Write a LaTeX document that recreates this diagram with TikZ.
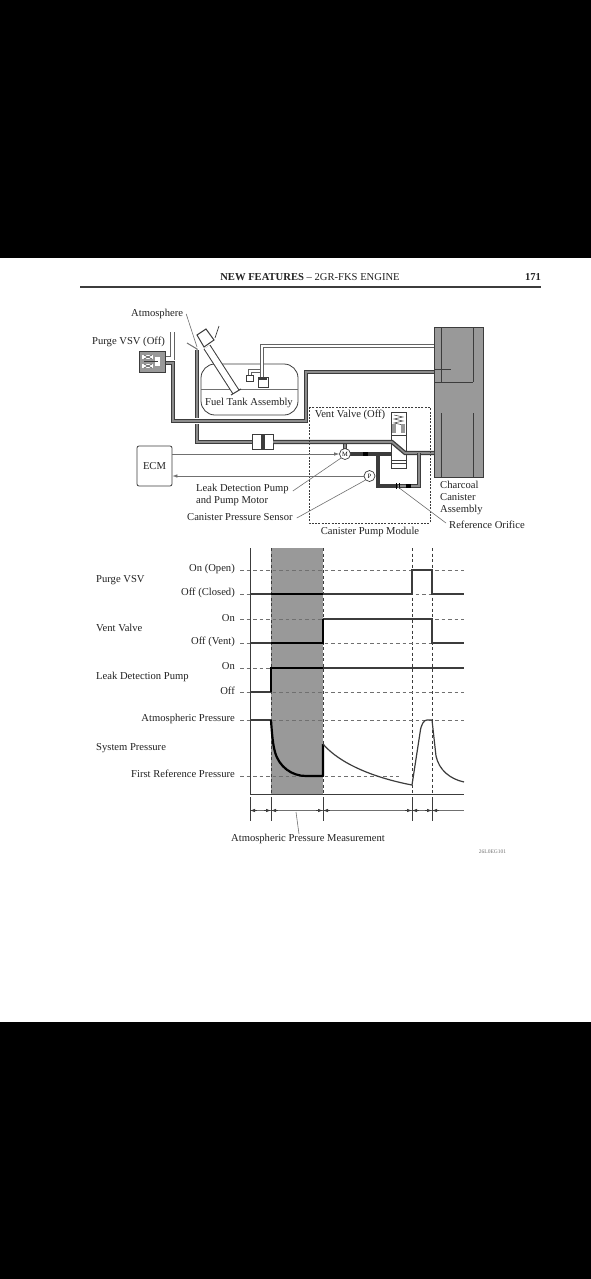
\documentclass[tikz,border=0pt]{standalone}
\usepackage{fontspec}
\setmainfont{Liberation Serif}
\usepackage{xcolor}
\usetikzlibrary{arrows.meta}
\definecolor{inkc}{HTML}{222222}
\definecolor{pipec}{HTML}{3C3C3C}
\definecolor{pipefillc}{HTML}{8C8C8C}
\definecolor{shadec}{HTML}{999999}
\definecolor{leaderc}{HTML}{707070}
\tikzset{
  lbl/.style={inner sep=0pt, yshift=-1pt, text=inkc, font=\fontsize{10.6}{12}\selectfont},
  leader/.style={draw=leaderc, line width=0.6pt},
  mainpipe/.style={draw=pipec, line width=1.3pt, double=pipefillc, double distance=1.6pt},
  thinpipe/.style={draw=pipec!80, line width=1pt, double=white, double distance=1.5pt},
  darkpipe/.style={draw=pipec, line width=3.2pt},
  body/.style={draw=pipec, line width=0.8pt, fill=white},
  wire/.style={draw=leaderc, line width=0.6pt},
  level/.style={draw=leaderc, line width=0.7pt, dash pattern=on 3.5pt off 3pt},
  guide/.style={draw=pipec, line width=0.6pt, dash pattern=on 3pt off 2.5pt},
  signal/.style={draw=pipec, line width=1.2pt},
  active/.style={draw=black, line width=2.2pt},
  sensor/.style={circle, draw=pipec, line width=0.7pt, fill=white, inner sep=0pt, minimum size=11pt, font=\fontsize{6.5}{7}\selectfont},
  tip/.style={draw=pipec, line width=0.7pt},
  tipr/.style={tip, -{Latex[length=5pt,width=3.5pt]}},
  tipl/.style={tip, {Latex[length=5pt,width=3.5pt]}-},
}
\begin{document}
\begin{tikzpicture}[x=1pt,y=-1pt]
\useasboundingbox (0,0) rectangle (591,1279);
\fill[black] (0,0) rectangle (591,1279);
\fill[white] (0,258) rectangle (591,1022);
% header
\node[lbl] (title) at (310,276) {\textbf{NEW FEATURES} -- 2GR-FKS ENGINE};
\node[lbl,font=\bfseries\fontsize{10.6}{12}\selectfont] (pageno) at (533,276) {171};
\draw[pipec,line width=1.2pt] (80,287) -- (541,287);
% canister
\fill[shadec] (434,327) rectangle (483,477);
\draw[pipec,line width=0.8pt] (434,327) rectangle (483,477);
\draw[pipec,line width=0.5pt] (441,327) -- (441,382);
\draw[pipec,line width=0.5pt] (473,327) -- (473,382);
\draw[pipec,line width=0.5pt] (441,413) -- (441,477);
\draw[pipec,line width=0.5pt] (473,413) -- (473,477);
\draw[pipec,line width=0.5pt] (434,369) -- (451,369);
\draw[pipec,line width=0.5pt] (434,382) -- (473,382);
% tank
\draw[pipec,line width=0.8pt,rounded corners=14pt] (201,364) rectangle (298,415);
\draw[leaderc,line width=0.5pt] (201,389) -- (298,389);
\draw[thinpipe] (250,375) -- (250,371) -- (262,371);
\draw[thinpipe] (262,378) -- (262,346) -- (434,346);
\draw[body,line width=1pt] (246,375) rectangle (253,381);
\draw[body,line width=1pt] (258,377) rectangle (268,387);
\fill[pipec] (259,377) rectangle (267,380);
% purge pipes
\draw[mainpipe] (197,350) -- (197,442) -- (252,442);
\draw[white,line width=6pt] (173,421) -- (306,421);
\draw[mainpipe] (165,363) -- (173,363) -- (173,421) -- (306,421) -- (306,372) -- (434,372);
\draw[thinpipe,line width=0.8pt,double distance=3pt] (172.5,332) -- (172.5,358) -- (165,358);
\draw[leaderc,line width=1pt] (187,343) -- (197,349) -- (197,350);
% filler neck
\draw[pipec,line width=1pt,double=white,double distance=6pt] (207,347) -- (236,392);
\draw[pipec,line width=1pt] (231,395) -- (241,389);
\draw[body,line width=1pt] (197,335) -- (206,329) -- (214,340) -- (204,347) -- cycle;
\draw[pipec,line width=0.7pt] (219,326) -- (215,338);
% purge vsv
\fill[shadec] (139,351) rectangle (165,372);
\draw[pipec,line width=0.8pt] (139,351) rectangle (165,372);
\fill[white] (142,355) rectangle (153,359);
\fill[white] (142,364) rectangle (153,368);
\fill[white] (155,357) rectangle (160,366);
\draw[pipec,line width=0.5pt] (144,361) -- (158,361);
\draw[pipec,line width=0.5pt] (144,355) -- (152,359);
\draw[pipec,line width=0.5pt] (144,359) -- (152,355);
\draw[pipec,line width=0.5pt] (144,364) -- (152,368);
\draw[pipec,line width=0.5pt] (144,368) -- (152,364);
% vent valve
\draw[body] (391,412) rectangle (406,468);
\draw[pipec,line width=0.5pt] (394,415) -- (403,417) -- (394,419) -- (403,421) -- (394,423) -- (403,425);
\fill[shadec] (392,424) rectangle (396,433);
\fill[shadec] (401,424) rectangle (405,433);
\draw[pipec,line width=0.7pt] (391,435) -- (406,435);
\draw[pipec,line width=0.5pt] (391,460) -- (406,460);
\draw[pipec,line width=0.5pt] (391,463) -- (406,463);
% canister pump module
\draw[mainpipe,line width=1pt,double distance=1.8pt] (345,449) -- (345,442);
\draw[body,fill=white] (252,434) rectangle (273,449);
\fill[pipec] (261,434) rectangle (265,449);
\draw[mainpipe] (273,442) -- (392,442) -- (405,453) -- (434,453);
\draw[darkpipe] (350,454) -- (391,454);
\draw[darkpipe] (378,454) -- (378,486) -- (398,486);
\draw[mainpipe,line width=1pt,double distance=1.8pt] (398,486) -- (419,486) -- (419,453);
\fill[black] (363,452) rectangle (368,456);
\fill[black] (406,484) rectangle (411,488);
\draw[black,line width=0.7pt] (396,483) -- (396,489);
\draw[black,line width=0.7pt] (399,483) -- (399,489);
\draw[pipec,line width=0.8pt,dash pattern=on 2pt off 1.3pt] (309,407) rectangle (430,523);
% ecm and sensors
\node[lbl,draw=pipec,line width=0.8pt,rounded corners=2pt,minimum width=35pt,minimum height=40pt] (ecm) at (154.5,465) {ECM};
\node[sensor] (motor) at (345,454) {M};
\node[sensor] (pressure) at (369.5,476) {P};
\draw[wire,-{Latex[length=5pt,width=3.5pt]}] (motor -| ecm.east) -- (motor.west);
\draw[wire,-{Latex[length=5pt,width=3.5pt]}] (pressure.west) -- (pressure -| ecm.east);
% diagram labels
\node[lbl,anchor=west] (atmos) at (131,313) {Atmosphere};
\node[lbl,anchor=west] (vsvlbl) at (92,341) {Purge VSV (Off)};
\node[lbl] (tanklbl) at (249,402) {Fuel Tank Assembly};
\node[lbl] (ventlbl) at (350,414) {Vent Valve (Off)};
\node[lbl] (modulelbl) at (370,531) {Canister Pump Module};
\node[lbl,anchor=west,align=left] (leaklbl) at (196,494) {Leak Detection Pump\\and Pump Motor};
\node[lbl,anchor=west] (sensorlbl) at (187,516) {Canister Pressure Sensor};
\node[lbl,anchor=west,align=left] (charcoallbl) at (440,497) {Charcoal\\Canister\\Assembly};
\node[lbl,anchor=west] (orificelbl) at (449,524) {Reference Orifice};
\coordinate (atmostip) at (197,347);
\coordinate (orificetip) at (398,487);
\draw[leader] (atmos.east) ++(3,0) -- (atmostip);
\draw[leader] (leaklbl.east) ++(4,-4) -- (motor.south west);
\draw[leader] (sensorlbl.east) ++(4,1) -- (pressure.south west);
\draw[leader] (orificelbl.west) ++(-3,-2) -- (orificetip);
% chart
\fill[shadec] (271,548) rectangle (323,794);
\draw[pipec,line width=0.9pt] (250,548) -- (250,794) -- (464,794);
\draw[guide] (271,548) -- (271,794);
\draw[guide] (323,548) -- (323,794);
\draw[guide] (412,548) -- (412,794);
\draw[guide] (432,548) -- (432,794);
\draw[level] (240,570) -- (464,570);
\draw[level] (240,594) -- (464,594);
\draw[level] (240,619) -- (464,619);
\draw[level] (240,643) -- (464,643);
\draw[level] (240,668) -- (464,668);
\draw[level] (240,692) -- (464,692);
\draw[level] (240,720) -- (464,720);
\draw[level] (240,776) -- (399,776);
% signals
\draw[signal] (250,594) -- (412,594) -- (412,570) -- (432,570) -- (432,594) -- (464,594);
\draw[signal] (250,643) -- (271,643);
\draw[signal] (323,619) -- (432,619) -- (432,643) -- (464,643);
\draw[signal] (250,692) -- (271,692);
\draw[signal] (323,668) -- (464,668);
\draw[signal] (250,720) -- (271,720);
\draw[active] (271,594) -- (323,594);
\draw[active] (271,643) -- (323,643) -- (323,619);
\draw[active] (271,692) -- (271,668) -- (323,668);
\draw[active,line join=round] (271,720) .. controls (272,735) and (273,745) .. (275,752) .. controls (279,767) and (292,776) .. (306,776) -- (323,776) -- (323,744);
\draw[signal] (323,744) .. controls (340,764) and (375,778) .. (412,785) -- (420,733) .. controls (421,724) and (424,720) .. (427,720) -- (432,720) -- (436,756) .. controls (439,770) and (450,779) .. (464,782);
% timing bar
\draw[leaderc,line width=0.7pt] (250,810.5) -- (464,810.5);
\draw[tip] (250,797) -- (250,821);
\draw[tip] (271,797) -- (271,821);
\draw[tip] (323,797) -- (323,821);
\draw[tip] (412,797) -- (412,821);
\draw[tip] (432,797) -- (432,821);
\draw[tipl] (250,810.5) -- (257,810.5);
\draw[tipr] (264,810.5) -- (271,810.5);
\draw[tipl] (271,810.5) -- (278,810.5);
\draw[tipr] (316,810.5) -- (323,810.5);
\draw[tipl] (323,810.5) -- (330,810.5);
\draw[tipr] (405,810.5) -- (412,810.5);
\draw[tipl] (412,810.5) -- (419,810.5);
\draw[tipr] (425,810.5) -- (432,810.5);
\draw[tipl] (432,810.5) -- (439,810.5);
% chart labels
\node[lbl,anchor=east] (vsvon) at (235,568) {On (Open)};
\node[lbl,anchor=east] (vsvoff) at (235,592) {Off (Closed)};
\node[lbl,anchor=east] (venton) at (235,617) {On};
\node[lbl,anchor=east] (ventoff) at (235,641) {Off (Vent)};
\node[lbl,anchor=east] (pumpon) at (235,665) {On};
\node[lbl,anchor=east] (pumpoff) at (235,690) {Off};
\node[lbl,anchor=east] (atmolevel) at (235,718) {Atmospheric Pressure};
\node[lbl,anchor=east] (firstlevel) at (235,773) {First Reference Pressure};
\node[lbl,anchor=west] (vsvrow) at (96,579) {Purge VSV};
\node[lbl,anchor=west] (ventrow) at (96,627) {Vent Valve};
\node[lbl,anchor=west] (pumprow) at (96,676) {Leak Detection Pump};
\node[lbl,anchor=west] (systemrow) at (96,747) {System Pressure};
\node[lbl] (measlbl) at (308,838) {Atmospheric Pressure Measurement};
\coordinate (meastip) at (296,812);
\draw[leader] (meastip) -- (measlbl.north -| 299,0);
\node[lbl,font=\fontsize{5.5}{6}\selectfont,text=leaderc] (codelbl) at (492.5,851) {26L0EG101};
\end{tikzpicture}
\end{document}
